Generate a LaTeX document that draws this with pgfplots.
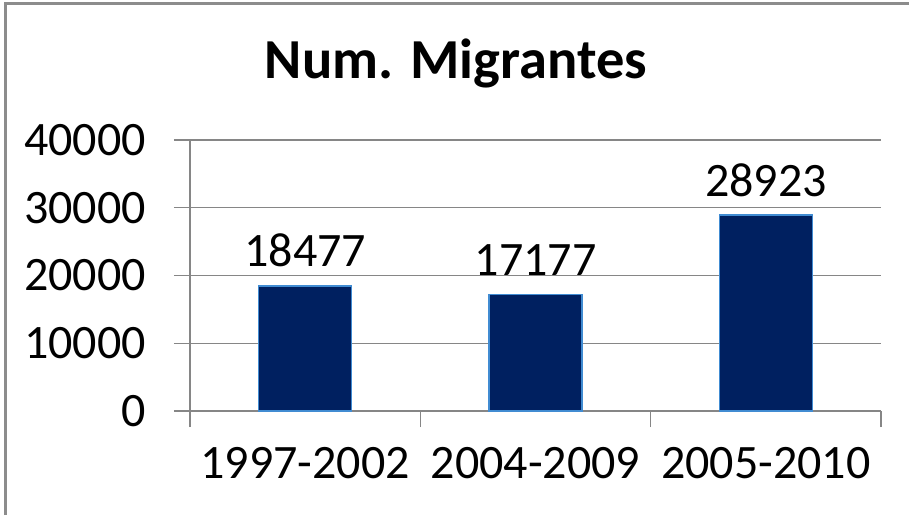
\documentclass[border=0pt]{standalone}
\usepackage{pgfplots}
\pgfplotsset{compat=1.18}
\usepackage{fontspec}
\setmainfont{Carlito}
\definecolor{barfill}{RGB}{0,32,96}
\definecolor{baredge}{RGB}{65,140,210}
\definecolor{gridc}{RGB}{134,134,134}
\definecolor{framec}{RGB}{140,140,140}
\newcommand\lab{\fontsize{48}{56}\selectfont}
\begin{document}
\begin{tikzpicture}[x=1pt,y=1pt]
\useasboundingbox (0,0) rectangle (909,515);
\draw[framec, line width=3pt] (5,0) -- (5,511.5) -- (909,511.5);
\node[anchor=base, inner sep=0pt, font=\fontsize{56.5}{64}\selectfont\bfseries] at (456,436) {Num. Migrantes};
\begin{axis}[
  at={(190pt,104pt)}, anchor=south west,
  scale only axis, width=691pt, height=271pt,
  xmin=-0.5, xmax=2.5, ymin=0, ymax=40000,
  axis lines=left,
  axis line style={-, gridc, line width=1.3pt},
  tick align=outside,
  major tick length=16pt,
  tick style={gridc, line width=1.3pt},
  ytick={0,10000,20000,30000,40000},
  scaled y ticks=false,
  ymajorgrids,
  grid style={gridc, line width=1.3pt},
  xtick={0,1,2},
  xticklabels={1997-2002,2004-2009,2005-2010},
  major x tick style={draw=none},
  extra x ticks={-0.5,0.5,1.5,2.5},
  extra x tick labels={},
  extra x tick style={major x tick style={draw=gridc}},
  /pgf/number format/.cd, 1000 sep={}, assume math mode=true,
  /pgfplots/.cd,
  ticklabel style={font=\lab, text=black, inner sep=0pt},
  yticklabel style={anchor=east, xshift=-28pt},
  xticklabel style={anchor=north, yshift=-20pt},
  clip=false,
]
\addplot[ybar, bar width=93pt, fill=barfill, draw=baredge, line width=1.5pt,
  nodes near coords,
  every node near coord/.append style={anchor=base, inner sep=0pt, yshift=19pt, font=\lab, text=black}]
  coordinates {(0,18477) (1,17177) (2,28923)};
\end{axis}
\end{tikzpicture}
\end{document}
